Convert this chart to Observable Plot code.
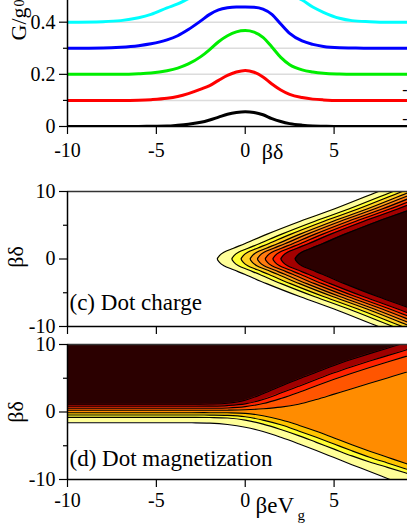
<!DOCTYPE html>
<html><head><meta charset="utf-8">
<script src="https://cdn.jsdelivr.net/npm/d3@7"></script>
<script src="https://cdn.jsdelivr.net/npm/@observablehq/plot@0.6"></script>
<style>
html,body{margin:0;padding:0;background:#fff;overflow:hidden}
#fig{position:relative;width:407px;height:527px;overflow:hidden;background:#fff}
#fig svg{position:absolute;left:0}
</style></head><body><div id="fig"></div>
<script>
// ---------- panel (top): conductance curves ----------
const gX = [-10,-8,-7,-6,-5.3,-4.4,-3.8,-3.2,-2.5,-2,-1.5,-1,-0.5,0,0.5,1,1.5,2,2.5,3.2,3.8,4.4,5.3,6,7,8,10];
const gBlack = [0,0,0,0,0.001,0.002,0.005,0.009,0.016,0.025,0.036,0.047,0.054,0.057,0.054,0.045,0.03,0.019,0.011,0.005,0.002,0.001,0,0,0,0,0];
const gRed   = [0.1,0.1,0.1,0.101,0.103,0.108,0.115,0.126,0.143,0.157,0.177,0.196,0.209,0.215,0.208,0.19,0.163,0.14,0.123,0.111,0.105,0.102,0.1,0.1,0.1,0.1,0.1];
const gGreen = [0.2,0.2,0.2,0.202,0.205,0.214,0.224,0.24,0.268,0.295,0.325,0.348,0.363,0.368,0.362,0.342,0.305,0.265,0.237,0.217,0.209,0.204,0.201,0.2,0.2,0.2,0.2];
const gBlue  = [0.3,0.301,0.304,0.31,0.317,0.332,0.348,0.372,0.405,0.43,0.447,0.455,0.458,0.458,0.457,0.45,0.43,0.393,0.357,0.328,0.315,0.307,0.302,0.301,0.3,0.3,0.3];
const gCyan  = [0.4,0.402,0.406,0.417,0.43,0.455,0.47,0.49,0.51,0.52,0.527,0.53,0.532,0.532,0.532,0.53,0.527,0.52,0.508,0.485,0.458,0.438,0.415,0.406,0.402,0.4,0.4];
const gSeries = [
  {name: "black", values: gBlack, color: "#000000"},
  {name: "red",   values: gRed,   color: "#ff0000"},
  {name: "green", values: gGreen, color: "#00ee00"},
  {name: "blue",  values: gBlue,  color: "#0000ff"},
  {name: "cyan",  values: gCyan,  color: "#00ffff"}
];
const gBaselines = [0.1, 0.2, 0.3, 0.4];
const gYTicks = [0, 0.2, 0.4];
const gYMinor = [0.1, 0.3];
const xTicks = [-10, -5, 0, 5];

// ---------- panel (c): dot charge contours (x position at each y level) ----------
const cY = [-11,-10,-7.4,-5.6,-3.65,-2.3,-1.6,-1,-0.5,0,0.5,1,1.6,2.3,3.65,5.6,7.4,10,11];
const c1 = [8.53,7.5,5.0,3.1,1.2,0,-0.66,-1.2,-1.45,-1.57,-1.45,-1.2,-0.66,0,1.2,3.1,5.0,7.5,8.53];
const c2 = [9.35,8.32,5.82,3.92,2.02,0.82,0.16,-0.38,-0.63,-0.75,-0.63,-0.38,0.16,0.82,2.02,3.92,5.82,8.32,9.35];
const c3 = [9.87,8.84,6.34,4.44,2.54,1.34,0.68,0.14,-0.11,-0.23,-0.11,0.14,0.68,1.34,2.54,4.44,6.34,8.84,9.87];
const c4 = [10.38,9.35,6.85,4.95,3.05,1.85,1.19,0.65,0.4,0.28,0.4,0.65,1.19,1.85,3.05,4.95,6.85,9.35,10.38];
const c5 = [10.79,9.76,7.26,5.36,3.46,2.26,1.6,1.06,0.81,0.69,0.81,1.06,1.6,2.26,3.46,5.36,7.26,9.76,10.79];
const c6 = [11.23,10.2,7.7,5.8,3.9,2.7,2.04,1.5,1.25,1.13,1.25,1.5,2.04,2.7,3.9,5.8,7.7,10.2,11.23];
const c7 = [11.66,10.63,8.13,6.23,4.33,3.13,2.47,1.93,1.68,1.56,1.68,1.93,2.47,3.13,4.33,6.23,8.13,10.63,11.66];
const c8 = [12.11,11.08,8.58,6.68,4.78,3.58,2.92,2.38,2.13,2.01,2.13,2.38,2.92,3.58,4.78,6.68,8.58,11.08,12.11];
const c9 = [12.91,11.88,9.38,7.48,5.58,4.38,3.72,3.18,2.93,2.81,2.93,3.18,3.72,4.38,5.58,7.48,9.38,11.88,12.91];
const chargeContours = [c1,c2,c3,c4,c5,c6,c7,c8,c9];
const chargeColors = ["#ffff99","#ffff33","#ffd21f","#ffa31a","#ff7b10","#ff4d00","#ff1a00","#a30000","#2b0000"];

// ---------- panel (d): dot magnetization contours (y position at each x level) ----------
const mX = [-11,-10,-6,-3,-2,-1,0,1,2,3,4,5,6,7,8,9,10,11];
const mL4 = [-1.6,-1.6,-1.6,-1.6,-1.65,-1.85,-2.25,-2.9,-3.75,-4.7,-5.7,-6.75,-7.8,-8.8,-9.85,-10.9,-11.9,-12.9];
const mL3 = [-0.8,-0.8,-0.8,-0.8,-0.82,-0.9,-1.2,-1.8,-2.6,-3.5,-4.5,-5.5,-6.5,-7.4,-8.2,-9.0,-9.8,-10.6];
const mL2 = [-0.45,-0.45,-0.45,-0.45,-0.46,-0.5,-0.7,-1.2,-1.9,-2.8,-3.75,-4.75,-5.75,-6.7,-7.55,-8.4,-9.2,-10];
const mL1 = [-0.1,-0.1,-0.1,-0.1,-0.1,-0.12,-0.2,-0.55,-1.15,-1.95,-2.85,-3.85,-4.85,-5.8,-6.7,-7.6,-8.45,-9.3];
const mU4 = [0.25,0.25,0.25,0.25,0.25,0.27,0.33,0.48,0.72,1.15,1.85,2.65,3.45,4.25,5.05,5.85,6.6,7.35];
const mU3 = [0.55,0.55,0.55,0.55,0.56,0.6,0.8,1.25,2.0,2.9,3.9,4.85,5.75,6.6,7.4,8.2,9.0,9.8];
const mU2 = [0.85,0.85,0.85,0.85,0.87,0.95,1.2,1.85,2.8,3.8,4.8,5.8,6.7,7.55,8.35,9.15,9.95,10.7];
const mU1 = [1.15,1.15,1.15,1.15,1.18,1.3,1.75,2.7,3.8,4.9,5.9,6.9,7.8,8.65,9.45,10.25,11.0,11.8];
const magContours = [mL4,mL3,mL2,mL1,mU4,mU3,mU2,mU1];
const magColors = ["#ffff99","#ffff33","#ffc400","#ff8c00","#ff5500","#ff2200","#a00000","#2b0000"];

const ddTicks = [-10, 0, 10];
const ddMinor = [-5, 5];

// ---------- helpers ----------
const FONT = '"Liberation Serif","Times New Roman",Times,serif';
const hy = d => (d < 0 ? "-" + Math.abs(d) : String(d));
const fig = document.getElementById("fig");
function place(svg, top) { svg.style.top = top + "px"; fig.appendChild(svg); }
const baseStyle = {fontFamily: FONT, fontSize: "20px", background: "transparent", color: "black", overflow: "visible"};
const XDOM = [-10, 9.13];

// ---------- top panel ----------
const gRows = s => gX.map((x, i) => ({x, y: s.values[i]}));
const topPlot = Plot.plot({
  width: 407, height: 165, marginLeft: 67, marginRight: 0, marginTop: 0, marginBottom: 39,
  style: baseStyle,
  x: {domain: XDOM, label: null},
  y: {domain: [0, 0.4832], label: null},
  marks: [
    Plot.ruleY(gBaselines, {stroke: "#dcdcdc", strokeWidth: 1.5}),
    ...gSeries.map(s => Plot.line(gRows(s), {x: "x", y: "y", stroke: s.color, strokeWidth: 3, curve: "monotone-x", clip: true})),
    Plot.ruleY([0], {stroke: "black", strokeWidth: 1.5}),
    Plot.ruleX([-10], {stroke: "black", strokeWidth: 1.5}),
    Plot.axisX({ticks: xTicks, tickSize: 8, tickPadding: 8, tickFormat: hy, label: null, strokeWidth: 1.2}),
    Plot.axisY({ticks: gYTicks, tickSize: 8, tickPadding: 4, tickFormat: d => d === 0 ? "0" : d.toFixed(1), label: null, strokeWidth: 1.2}),
    Plot.axisY({ticks: gYMinor, tickSize: 4, text: null, label: null, strokeWidth: 1.2}),
    Plot.text(["βδ"], {frameAnchor: "bottom-left", dx: 205, dy: 32, textAnchor: "middle", lineAnchor: "bottom", fontSize: 22}),
    Plot.text(["G/g"], {frameAnchor: "top-left", dx: -42, dy: 40, rotate: -90, textAnchor: "start", lineAnchor: "bottom", fontSize: 22}),
    Plot.text(["0"], {frameAnchor: "top-left", dx: -44, dy: 6, rotate: -90, textAnchor: "start", lineAnchor: "bottom", fontSize: 14}),
    Plot.text(["-"], {frameAnchor: "top-right", dx: 0, dy: 89, textAnchor: "end", lineAnchor: "middle", fontSize: 16}),
    Plot.text(["-"], {frameAnchor: "top-right", dx: 0, dy: 118, textAnchor: "end", lineAnchor: "middle", fontSize: 16})
  ]
});
place(topPlot, 0);

// ---------- panel (c) ----------
const cRows = xs => cY.map((y, i) => ({x: xs[i], y}));
const chargePlot = Plot.plot({
  width: 407, height: 155, marginLeft: 67, marginRight: 0, marginTop: 10, marginBottom: 10,
  style: baseStyle,
  x: {domain: XDOM, label: null},
  y: {domain: [-10, 10], label: null},
  marks: [
    ...chargeContours.map((xs, i) => Plot.areaX(cRows(xs), {y: "y", x1: "x", x2: () => 30, fill: chargeColors[i], curve: "catmull-rom", clip: true})),
    ...chargeContours.map(xs => Plot.line(cRows(xs), {x: "x", y: "y", stroke: "black", strokeWidth: 1.2, curve: "catmull-rom", clip: true})),
    Plot.ruleY([10], {stroke: "#333", strokeWidth: 1.5}),
    Plot.ruleY([-10], {stroke: "black", strokeWidth: 1.5}),
    Plot.ruleX([-10], {stroke: "black", strokeWidth: 1.5}),
    Plot.axisX({ticks: xTicks, tickSize: 8, text: null, label: null, strokeWidth: 1.2}),
    Plot.axisY({ticks: ddTicks, tickSize: 8, tickPadding: 4, tickFormat: hy, label: null, strokeWidth: 1.2}),
    Plot.axisY({ticks: ddMinor, tickSize: 4, text: null, label: null, strokeWidth: 1.2}),
    Plot.text(["βδ"], {frameAnchor: "left", dx: -52, dy: -2, rotate: -90, textAnchor: "middle", lineAnchor: "middle", fontSize: 22}),
    Plot.text(["(c) Dot charge"], {frameAnchor: "bottom-left", dx: 2, dy: -17, textAnchor: "start", lineAnchor: "bottom", fontSize: 23})
  ]
});
place(chargePlot, 181);

// ---------- panel (d) ----------
const mRows = ys => mX.map((x, i) => ({x, y: ys[i]}));
const magPlot = Plot.plot({
  width: 407, height: 193, marginLeft: 67, marginRight: 0, marginTop: 10, marginBottom: 48,
  style: baseStyle,
  x: {domain: XDOM, label: null},
  y: {domain: [-10, 10], label: null},
  marks: [
    ...magContours.map((ys, i) => Plot.areaY(mRows(ys), {x: "x", y1: "y", y2: () => 30, fill: magColors[i], curve: "catmull-rom", clip: true})),
    ...magContours.map(ys => Plot.line(mRows(ys), {x: "x", y: "y", stroke: "black", strokeWidth: 1.1, curve: "catmull-rom", clip: true})),
    Plot.ruleY([10], {stroke: "#333", strokeWidth: 1.5}),
    Plot.ruleY([-10], {stroke: "black", strokeWidth: 1.5}),
    Plot.ruleX([-10], {stroke: "black", strokeWidth: 1.5}),
    Plot.axisX({ticks: xTicks, tickSize: 8, tickPadding: 5, tickFormat: hy, label: null, strokeWidth: 1.2}),
    Plot.axisY({ticks: ddTicks, tickSize: 8, tickPadding: 4, tickFormat: hy, label: null, strokeWidth: 1.2}),
    Plot.axisY({ticks: ddMinor, tickSize: 4, text: null, label: null, strokeWidth: 1.2}),
    Plot.text(["βδ"], {frameAnchor: "left", dx: -52, dy: 0, rotate: -90, textAnchor: "middle", lineAnchor: "middle", fontSize: 22}),
    Plot.text(["(d) Dot magnetization"], {frameAnchor: "bottom-left", dx: 2, dy: -14, textAnchor: "start", lineAnchor: "bottom", fontSize: 23}),
    Plot.text(["βeV"], {frameAnchor: "bottom-left", dx: 188, dy: 33, textAnchor: "start", lineAnchor: "bottom", fontSize: 23}),
    Plot.text(["g"], {frameAnchor: "bottom-left", dx: 230, dy: 40, textAnchor: "start", lineAnchor: "bottom", fontSize: 15})
  ]
});
place(magPlot, 334);
</script></body></html>
